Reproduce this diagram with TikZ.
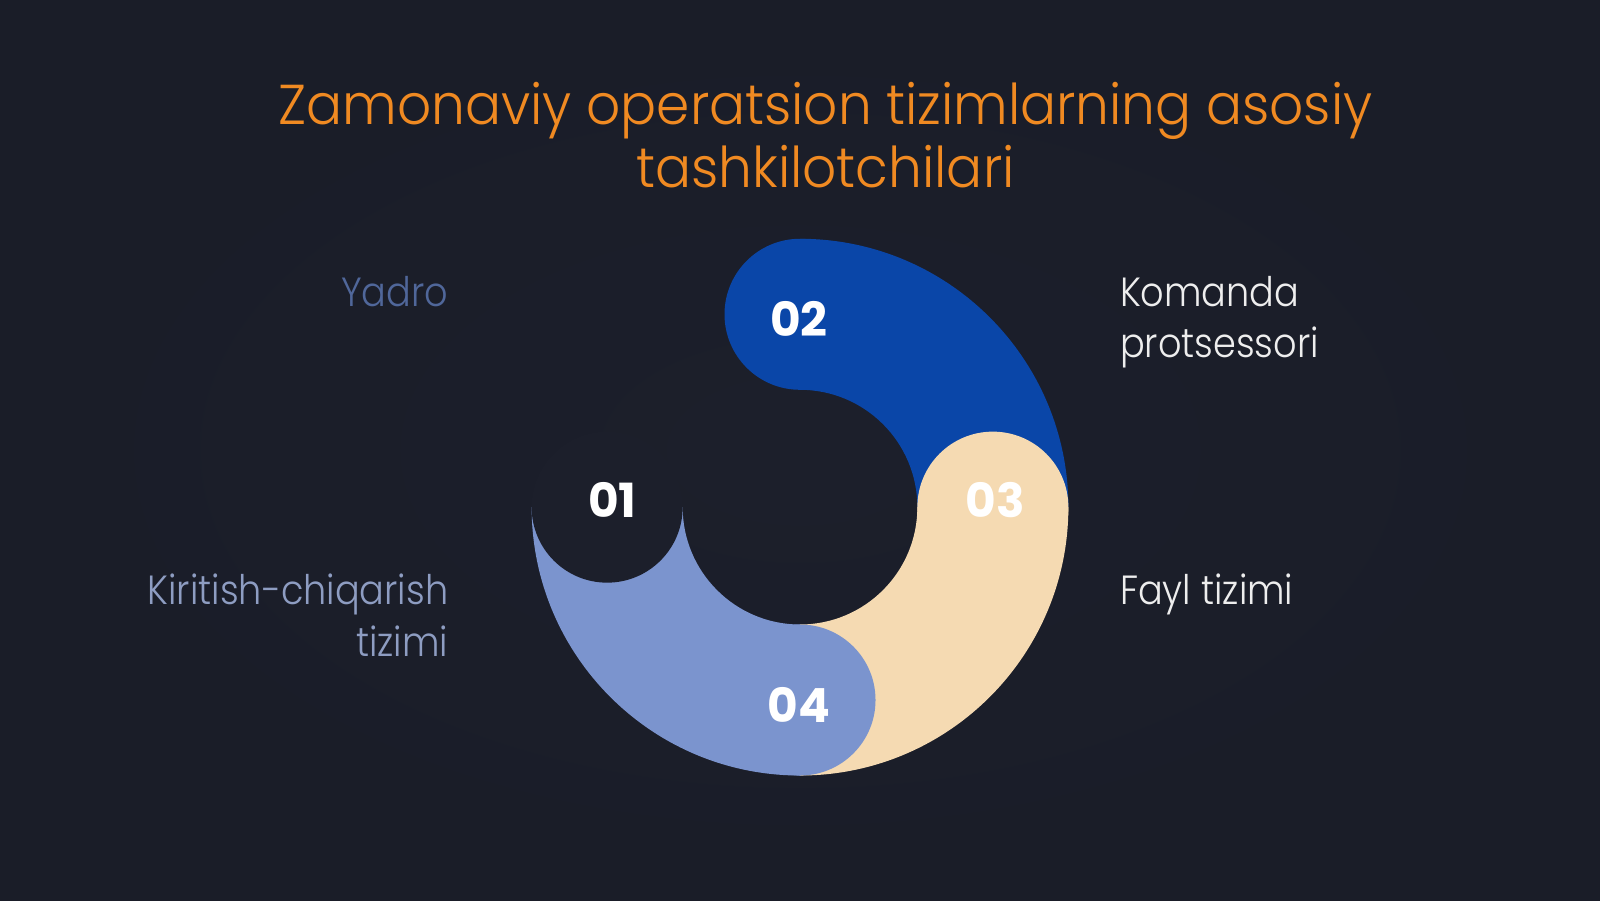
\documentclass[tikz,border=0pt]{standalone}
\usepackage{fontspec}
\setmainfont{Poppins}
\newfontfamily\lightfont{Poppins Light}[FakeStretch=0.9]
\newfontfamily\titlefont{Poppins Light}[FakeStretch=0.95]
\usetikzlibrary{calc}
\definecolor{bg}{HTML}{1C1F2B}
\definecolor{bgout}{HTML}{1A1D28}
\definecolor{segblue}{HTML}{0A46A8}
\definecolor{segbeige}{HTML}{F5DAB2}
\definecolor{seglight}{HTML}{7B94CE}
\definecolor{titleor}{HTML}{F08A22}
\definecolor{yadroc}{HTML}{50679A}
\definecolor{kiric}{HTML}{8E9DC2}
\definecolor{whitetxt}{HTML}{EEEEEE}
\tikzset{
  titletxt/.style={text=titleor,font=\titlefont\fontsize{16}{18}\selectfont,inner sep=0pt},
  lbltxt/.style={font=\lightfont\fontsize{11.6}{14}\selectfont,inner sep=0pt},
  numtxt/.style={text=white,font=\bfseries\fontsize{13.4}{14}\selectfont,inner sep=0pt}
}
\begin{document}
\begin{tikzpicture}[x=0.010204cm,y=0.010204cm]
\shade[inner color=bg,outer color=bgout] (0,0) rectangle (1568,882);
\useasboundingbox (0,0) rectangle (1568,882);
\coordinate (C) at (784,385);
% segment 02
\fill[segblue] ($(C)+(90:263)$) arc[start angle=90,end angle=0,radius=263] -- ($(C)+(0:115)$) arc[start angle=0,end angle=90,radius=115] -- cycle;
\fill[segblue] ($(C)+(90:189)$) circle[radius=74];
% segment 03
\fill[segbeige] ($(C)+(0:263)$) arc[start angle=0,end angle=-90,radius=263] -- ($(C)+(-90:115)$) arc[start angle=-90,end angle=0,radius=115] -- cycle;
\fill[segbeige] ($(C)+(0:189)$) circle[radius=74];
% segment 04
\fill[seglight] ($(C)+(-90:263)$) arc[start angle=-90,end angle=-180,radius=263] -- ($(C)+(180:115)$) arc[start angle=180,end angle=270,radius=115] -- cycle;
\fill[seglight] ($(C)+(-90:189)$) circle[radius=74];
% segment 01 cap
\fill[bg] ($(C)+(180:189)$) circle[radius=74];
% numbers
\node[numtxt,anchor=base] (n02) at (783,882-330) {02};
\node[numtxt,anchor=base] (n01) at (600,882-507) {01};
\node[numtxt,anchor=base] (n03) at (975,882-507) {03};
\node[numtxt,anchor=base] (n04) at (783,882-708) {04};
% title
\node[titletxt,anchor=base] (t1) at (809,882-122) {Zamonaviy operatsion tizimlarning asosiy};
\node[titletxt,anchor=base] (t2) at (809,882-184) {tashkilotchilari};
% labels
\node[lbltxt,text=yadroc,anchor=base east] (l1) at (440,882-300) {Yadro};
\node[lbltxt,text=whitetxt,anchor=base west] (l2a) at (1097,882-300) {Komanda};
\node[lbltxt,text=whitetxt,anchor=base west] (l2b) at (1097,882-350) {protsessori};
\node[lbltxt,text=whitetxt,anchor=base west] (l3) at (1097,882-592) {Fayl tizimi};
\node[lbltxt,text=kiric,anchor=base east] (l4a) at (440,882-592) {Kiritish-chiqarish};
\node[lbltxt,text=kiric,anchor=base east] (l4b) at (440,882-643) {tizimi};
\end{tikzpicture}
\end{document}
